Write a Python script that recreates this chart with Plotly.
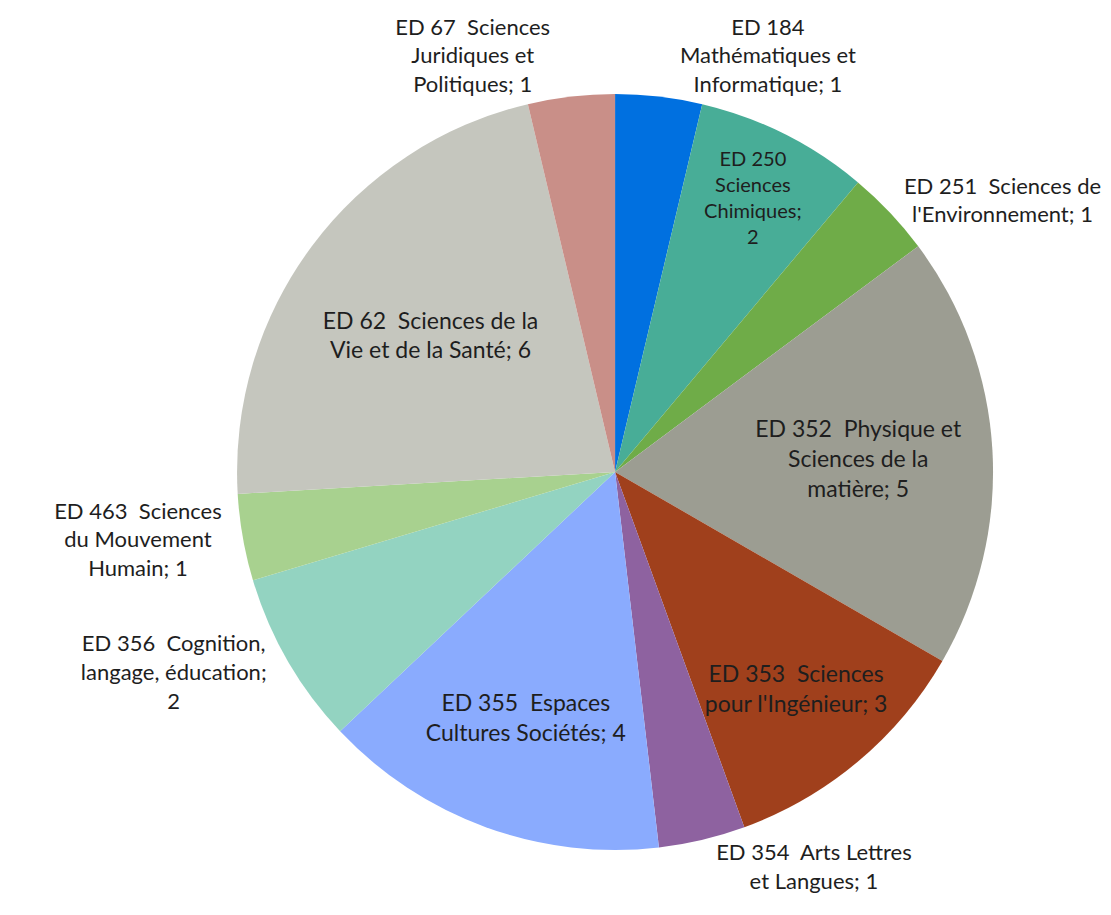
import plotly.graph_objects as go

labels = [
    "ED 184<br>Mathématiques et<br>Informatique; 1",
    "ED 250<br>Sciences<br>Chimiques;<br>2",
    "ED 251  Sciences de<br>l'Environnement; 1",
    "ED 352  Physique et<br>Sciences de la<br>matière; 5",
    "ED 353  Sciences<br>pour l'Ingénieur; 3",
    "ED 354  Arts Lettres<br>et Langues; 1",
    "ED 355  Espaces<br>Cultures Sociétés; 4",
    "ED 356  Cognition,<br>langage, éducation;<br>2",
    "ED 463  Sciences<br>du Mouvement<br>Humain; 1",
    "ED 62  Sciences de la<br>Vie et de la Santé; 6",
    "ED 67  Sciences<br>Juridiques et<br>Politiques; 1",
]
names = ["ED 184", "ED 250", "ED 251", "ED 352", "ED 353", "ED 354",
         "ED 355", "ED 356", "ED 463", "ED 62", "ED 67"]
values = [1, 2, 1, 5, 3, 1, 4, 2, 1, 6, 1]
colors = ["#0070E0", "#48AD97", "#6FAC48", "#9C9D92", "#A0401C", "#8E62A0",
          "#8AABFE", "#93D3C1", "#A8D18F", "#C5C6BE", "#C98F88"]
positions = ["outside", "inside", "outside", "inside", "inside", "outside",
             "inside", "outside", "outside", "inside", "outside"]

outside_font = dict(family="Lato", size=22, color="#1e1e1e")
inside_font = dict(family="Lato", size=23, color="#1e1e1e")

fig = go.Figure(go.Pie(
    labels=names,
    values=values,
    text=labels,
    textinfo="text",
    textposition=positions,
    insidetextorientation="horizontal",
    sort=False,
    direction="clockwise",
    rotation=0,
    marker=dict(colors=colors, line=dict(width=0)),
    textfont=outside_font,
    outsidetextfont=outside_font,
    insidetextfont=inside_font,
    domain=dict(x=[0.2017, 0.8911], y=[0.0809, 0.9181]),
    showlegend=False,
    hoverinfo="label+value",
))

fig.update_layout(
    width=1111, height=915,
    margin=dict(l=0, r=0, t=0, b=0),
    paper_bgcolor="white",
    plot_bgcolor="white",
)

fig.write_html("out.html")
